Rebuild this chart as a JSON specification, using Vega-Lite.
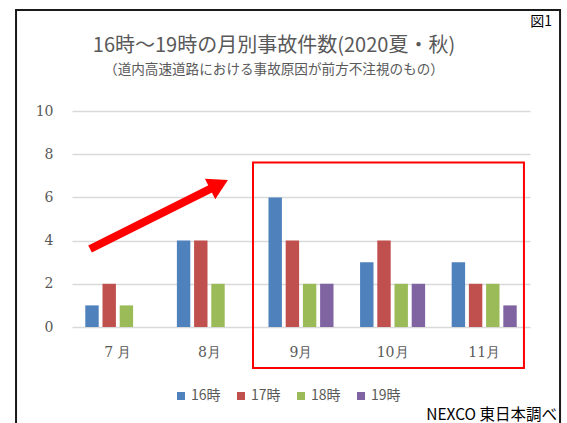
{
  "$schema": "https://vega.github.io/schema/vega-lite/v6.json",
  "width": 458,
  "height": 216,
  "autosize": "none",
  "padding": {"left": 72, "top": 111, "right": 37, "bottom": 96},
  "background": "white",
  "data": {
    "values": [
      {"month": "7 月", "hour": "16時", "count": 1},
      {"month": "7 月", "hour": "17時", "count": 2},
      {"month": "7 月", "hour": "18時", "count": 1},
      {"month": "7 月", "hour": "19時", "count": 0},
      {"month": "8月", "hour": "16時", "count": 4},
      {"month": "8月", "hour": "17時", "count": 4},
      {"month": "8月", "hour": "18時", "count": 2},
      {"month": "8月", "hour": "19時", "count": 0},
      {"month": "9月", "hour": "16時", "count": 6},
      {"month": "9月", "hour": "17時", "count": 4},
      {"month": "9月", "hour": "18時", "count": 2},
      {"month": "9月", "hour": "19時", "count": 2},
      {"month": "10月", "hour": "16時", "count": 3},
      {"month": "10月", "hour": "17時", "count": 4},
      {"month": "10月", "hour": "18時", "count": 2},
      {"month": "10月", "hour": "19時", "count": 2},
      {"month": "11月", "hour": "16時", "count": 3},
      {"month": "11月", "hour": "17時", "count": 2},
      {"month": "11月", "hour": "18時", "count": 2},
      {"month": "11月", "hour": "19時", "count": 1}
    ]
  },
  "layer": [
    {
      "mark": {"type": "bar"},
      "encoding": {
        "x": {
          "field": "month",
          "type": "nominal",
          "sort": ["7 月", "8月", "9月", "10月", "11月"],
          "scale": {"paddingInner": 0.29, "paddingOuter": 0.145},
          "axis": {
            "title": null,
            "labelAngle": 0,
            "domain": false,
            "ticks": false,
            "grid": false,
            "labelPadding": 18,
            "labelFont": "DejaVu Serif",
            "labelFontSize": 14,
            "labelColor": "#595959"
          }
        },
        "xOffset": {
          "field": "hour",
          "type": "nominal",
          "sort": ["16時", "17時", "18時", "19時"],
          "scale": {"paddingInner": 0.22, "paddingOuter": 0}
        },
        "y": {
          "field": "count",
          "type": "quantitative",
          "scale": {"domain": [0, 10], "nice": false},
          "axis": {
            "title": null,
            "values": [0, 2, 4, 6, 8, 10],
            "domain": false,
            "ticks": false,
            "labelPadding": 19,
            "labelFont": "DejaVu Serif",
            "labelFontSize": 14,
            "labelColor": "#595959",
            "gridColor": "#D9D9D9",
            "gridWidth": 1.5
          }
        },
        "color": {
          "field": "hour",
          "type": "nominal",
          "sort": ["16時", "17時", "18時", "19時"],
          "scale": {
            "domain": ["16時", "17時", "18時", "19時"],
            "range": ["#4F81BD", "#C0504D", "#9BBB59", "#8064A2"]
          },
          "legend": {
            "orient": "none",
            "legendX": 102,
            "legendY": 278,
            "direction": "horizontal",
            "title": null,
            "symbolType": "square",
            "symbolSize": 64,
            "symbolStrokeWidth": 0,
            "labelFont": "Noto Sans CJK JP",
            "labelFontSize": 14,
            "labelColor": "#595959",
            "labelOffset": 3,
            "columnPadding": 13
          }
        }
      }
    },
    {
      "data": {"values": [{}]},
      "layer": [
        {
          "mark": {"type": "rect", "fill": null, "stroke": "#1a1a1a", "strokeWidth": 2},
          "encoding": {
            "x": {"datum": -0.611, "type": "quantitative", "scale": {"domain": [0, 5], "nice": false, "zero": false}, "axis": null},
            "x2": {"datum": 5.328},
            "y": {"datum": 14.676, "type": "quantitative"},
            "y2": {"datum": -6}
          }
        },
        {
          "mark": {"type": "rect", "fill": null, "stroke": "#FF0000", "strokeWidth": 2},
          "encoding": {
            "x": {"datum": 1.976, "type": "quantitative", "axis": null},
            "x2": {"datum": 4.934},
            "y": {"datum": 7.61, "type": "quantitative"},
            "y2": {"datum": -1.9}
          }
        },
        {
          "mark": {"type": "rule", "color": "#FF0000", "strokeWidth": 8, "strokeCap": "butt"},
          "encoding": {
            "x": {"datum": 0.197, "type": "quantitative", "axis": null},
            "y": {"datum": 3.61, "type": "quantitative"},
            "x2": {"datum": 1.537},
            "y2": {"datum": 6.454}
          }
        },
        {
          "mark": {"type": "point", "shape": "triangle-right", "filled": true, "color": "#FF0000", "opacity": 1, "size": 530, "angle": 333.43, "strokeWidth": 0},
          "encoding": {
            "x": {"datum": 1.605, "type": "quantitative", "axis": null},
            "y": {"datum": 6.599, "type": "quantitative"}
          }
        },
        {
          "mark": {"type": "text", "text": "16時～19時の月別事故件数(2020夏・秋)", "align": "center", "baseline": "middle", "font": "Noto Sans CJK JP", "fontSize": 20, "color": "#595959"},
          "encoding": {
            "x": {"datum": 2.205, "type": "quantitative", "axis": null},
            "y": {"datum": 13.01, "type": "quantitative"}
          }
        },
        {
          "mark": {"type": "text", "text": "（道内高速道路における事故原因が前方不注視のもの）", "align": "center", "baseline": "middle", "font": "Noto Sans CJK JP", "fontSize": 13.6, "color": "#595959"},
          "encoding": {
            "x": {"datum": 2.205, "type": "quantitative", "axis": null},
            "y": {"datum": 11.9, "type": "quantitative"}
          }
        },
        {
          "mark": {"type": "text", "text": "図1", "align": "right", "baseline": "middle", "font": "Noto Sans CJK JP", "fontSize": 14, "color": "#000000"},
          "encoding": {
            "x": {"datum": 5.24, "type": "quantitative", "axis": null},
            "y": {"datum": 14.12, "type": "quantitative"}
          }
        },
        {
          "mark": {"type": "text", "text": "NEXCO 東日本調べ", "align": "right", "baseline": "middle", "font": "Noto Sans CJK JP", "fontSize": 15.5, "color": "#000000"},
          "encoding": {
            "x": {"datum": 5.295, "type": "quantitative", "axis": null},
            "y": {"datum": -4.07, "type": "quantitative"}
          }
        }
      ]
    }
  ],
  "resolve": {"scale": {"x": "independent"}, "axis": {"x": "independent"}},
  "config": {"view": {"stroke": null}}
}
